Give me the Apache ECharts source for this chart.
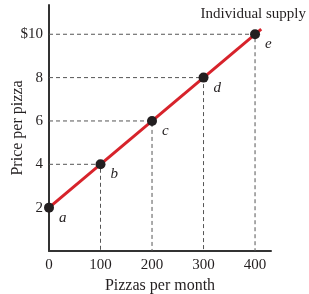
<!DOCTYPE html>
<html>
<head>
<meta charset="utf-8">
<script src="https://cdn.jsdelivr.net/npm/echarts@6/dist/echarts.min.js"></script>
<style>
  html, body { margin: 0; padding: 0; background: #fff; }
  #chart { width: 309px; height: 294px; }
</style>
</head>
<body>
<div id="chart"></div>
<script>
// data
var quantity = [0, 100, 200, 300, 400];
var price = [2, 4, 6, 8, 10];
var pointNames = ['a', 'b', 'c', 'd', 'e'];
var lineEnd = [412, 10.24]; // supply line runs a bit past e
var xTicks = [0, 100, 200, 300, 400];
var yTicks = [2, 4, 6, 8, 10];

var chart = echarts.init(document.getElementById('chart'));
var font = '"Liberation Serif", "DejaVu Serif", serif';
var ink = '#231f20';

var points = quantity.map(function (q, i) {
  return { value: [q, price[i]], name: pointNames[i] };
});

// dashed guides from each point to both axes (not for a, it sits on the axis)
var guides = [];
for (var i = 1; i < quantity.length; i++) {
  guides.push({
    type: 'line',
    data: [[0, price[i]], [quantity[i], price[i]], [quantity[i], 0]],
    symbol: 'none',
    silent: true,
    z: 1,
    lineStyle: { color: '#555', width: 1, type: [4, 3] }
  });
}

var option = {
  backgroundColor: '#fff',
  animation: false,
  grid: { left: 49, right: 38, top: 5, bottom: 43, containLabel: false, outerBoundsMode: 'none' },
  title: {
    text: 'Individual supply',
    right: 3, top: 7, padding: 0,
    textStyle: { fontFamily: font, fontSize: 15, fontWeight: 'normal', color: ink }
  },
  xAxis: {
    type: 'value', min: 0, max: 431, interval: 100,
    name: 'Pizzas per month', nameLocation: 'middle', nameGap: 27, nameMoveOverlap: false,
    nameTextStyle: { fontFamily: font, fontSize: 16, color: ink },
    axisLine: { lineStyle: { color: '#333', width: 2 } },
    axisTick: { show: false },
    splitLine: { show: false },
    axisLabel: {
      margin: 7, fontFamily: font, fontSize: 15, color: ink,
      showMaxLabel: false,
      formatter: function (v) { return xTicks.indexOf(v) >= 0 ? String(v) : ''; }
    }
  },
  yAxis: {
    type: 'value', min: 0, max: 11.35, interval: 2,
    name: 'Price per pizza', nameLocation: 'middle', nameGap: 23, nameRotate: 90, nameMoveOverlap: false,
    nameTextStyle: { fontFamily: font, fontSize: 16, color: ink },
    axisLine: { show: true, lineStyle: { color: '#333', width: 2 } },
    axisTick: { show: false },
    splitLine: { show: false },
    axisLabel: {
      margin: 6, fontFamily: font, fontSize: 15, color: ink,
      showMaxLabel: false,
      formatter: function (v) {
        if (yTicks.indexOf(v) < 0) return '';
        return v === 10 ? '$10' : String(v);
      }
    }
  },
  series: guides.concat([
    {
      type: 'line',
      data: [[quantity[0], price[0]], lineEnd],
      symbol: 'none',
      z: 3,
      lineStyle: { color: '#d7232b', width: 3 }
    },
    {
      type: 'scatter',
      data: points,
      symbolSize: 10,
      z: 4,
      itemStyle: { color: '#231f20', opacity: 1 },
      label: {
        show: true, position: 'right', offset: [0, 10],
        formatter: '{b}',
        fontFamily: font, fontStyle: 'italic', fontSize: 15, color: ink
      }
    }
  ])
};

chart.setOption(option);
</script>
</body>
</html>
